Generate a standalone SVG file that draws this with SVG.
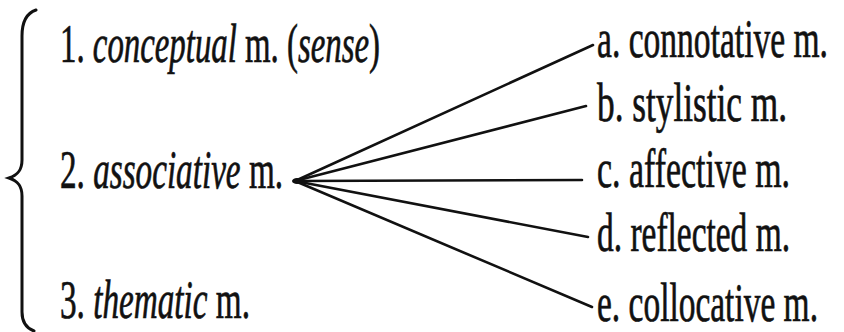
<svg xmlns="http://www.w3.org/2000/svg" width="844" height="332" viewBox="0 0 844 332">
<style>
.t{font-family:"Liberation Serif","Times New Roman",serif;font-size:54px;fill:#111;stroke:#111;stroke-width:0.7}
.i{font-style:italic}
.c{stroke:#111;stroke-width:2.6;fill:none;stroke-linecap:round}
.b{stroke:#111;stroke-width:3;fill:none;stroke-linecap:round}
</style>
<rect width="844" height="332" fill="#fff"/>
<g id="brace">
<path class="b" d="M36,10 C27,13 22,22 22,36 L22,160 C22,170 18,175 9,178 C18,181 22,186 22,196 L22,312 C22,322 26,328 34,331"/>
</g>
<g id="n1"><text class="t" x="60" y="62" textLength="320" lengthAdjust="spacingAndGlyphs">1. <tspan class="i">conceptual</tspan> m. (<tspan class="i">sense</tspan>)</text></g>
<g id="n2"><text class="t" x="60" y="188" textLength="223" lengthAdjust="spacingAndGlyphs">2. <tspan class="i">associative</tspan> m.</text></g>
<g id="n3"><text class="t" x="60" y="318" textLength="190" lengthAdjust="spacingAndGlyphs">3. <tspan class="i">thematic</tspan> m.</text></g>
<g id="na"><text class="t" x="597" y="57" textLength="231" lengthAdjust="spacingAndGlyphs">a. connotative m.</text></g>
<g id="nb"><text class="t" x="597" y="121" textLength="190" lengthAdjust="spacingAndGlyphs">b. stylistic m.</text></g>
<g id="nc"><text class="t" x="597" y="187" textLength="193" lengthAdjust="spacingAndGlyphs">c. affective m.</text></g>
<g id="nd"><text class="t" x="597" y="251" textLength="193" lengthAdjust="spacingAndGlyphs">d. reflected m.</text></g>
<g id="ne"><text class="t" x="597" y="321" textLength="221" lengthAdjust="spacingAndGlyphs">e. collocative m.</text></g>
<g id="connectors">
<ellipse cx="297" cy="181" rx="5" ry="3" fill="#111"/>
<line class="c" x1="295" y1="181" x2="593" y2="45"/>
<line class="c" x1="295" y1="181" x2="586" y2="106"/>
<line class="c" x1="295" y1="181" x2="582" y2="180"/>
<line class="c" x1="295" y1="181" x2="588" y2="237"/>
<line class="c" x1="295" y1="181" x2="592" y2="307"/>
</g>
</svg>
